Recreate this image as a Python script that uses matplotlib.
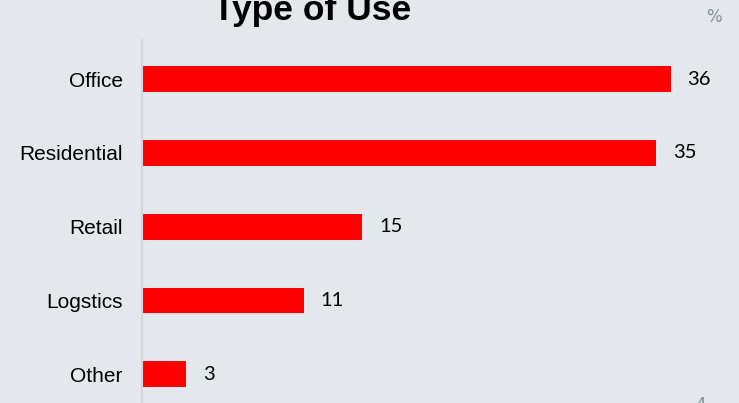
import matplotlib.pyplot as plt

categories = ["Office", "Residential", "Retail", "Logstics", "Other"]
values = [36, 35, 15, 11, 3]

BG = "#e4e8ec"

fig = plt.figure(figsize=(7.39, 4.03), dpi=100, facecolor=BG)
ax = fig.add_axes([142 / 739, 0.0, 1 - 142 / 739 - 0.01, 1 - 40 / 403])
ax.set_facecolor(BG)

pos = list(range(len(categories)))
ax.barh(pos, values, height=0.35, color="#ff0000")

for p, v in zip(pos, values):
    ax.annotate(str(v), xy=(v, p), xytext=(12, 0), textcoords="offset points",
                va="center", ha="left", fontsize=14.5, family="Lato", color="black")

ax.set_xlim(0, 40.15)
ax.set_ylim(4.39, -0.53)
ax.set_yticks(pos)
ax.set_yticklabels(categories, fontsize=15, family="Liberation Sans")
ax.tick_params(axis="y", length=0, pad=14)
ax.set_xticks([])
for s in ["top", "right", "bottom"]:
    ax.spines[s].set_visible(False)
ax.spines["left"].set_color("#d3d7db")
ax.spines["left"].set_linewidth(1.5)

# title sits partly above the top edge, as in the reference
fig.text(312 / 739, 1 - 20 / 403, "Type of Use", ha="center", va="baseline",
         fontsize=25.5, fontweight="bold", family="Liberation Sans")
fig.text(714 / 739, 1 - 17 / 403, "%", ha="center", va="center",
         fontsize=12, color="#7f8c99")
fig.text(700 / 739, 1 - 396 / 403, "4", ha="center", va="top",
         fontsize=12, color="#7f8c99")

fig.savefig("out.png", dpi=100, facecolor=BG)
